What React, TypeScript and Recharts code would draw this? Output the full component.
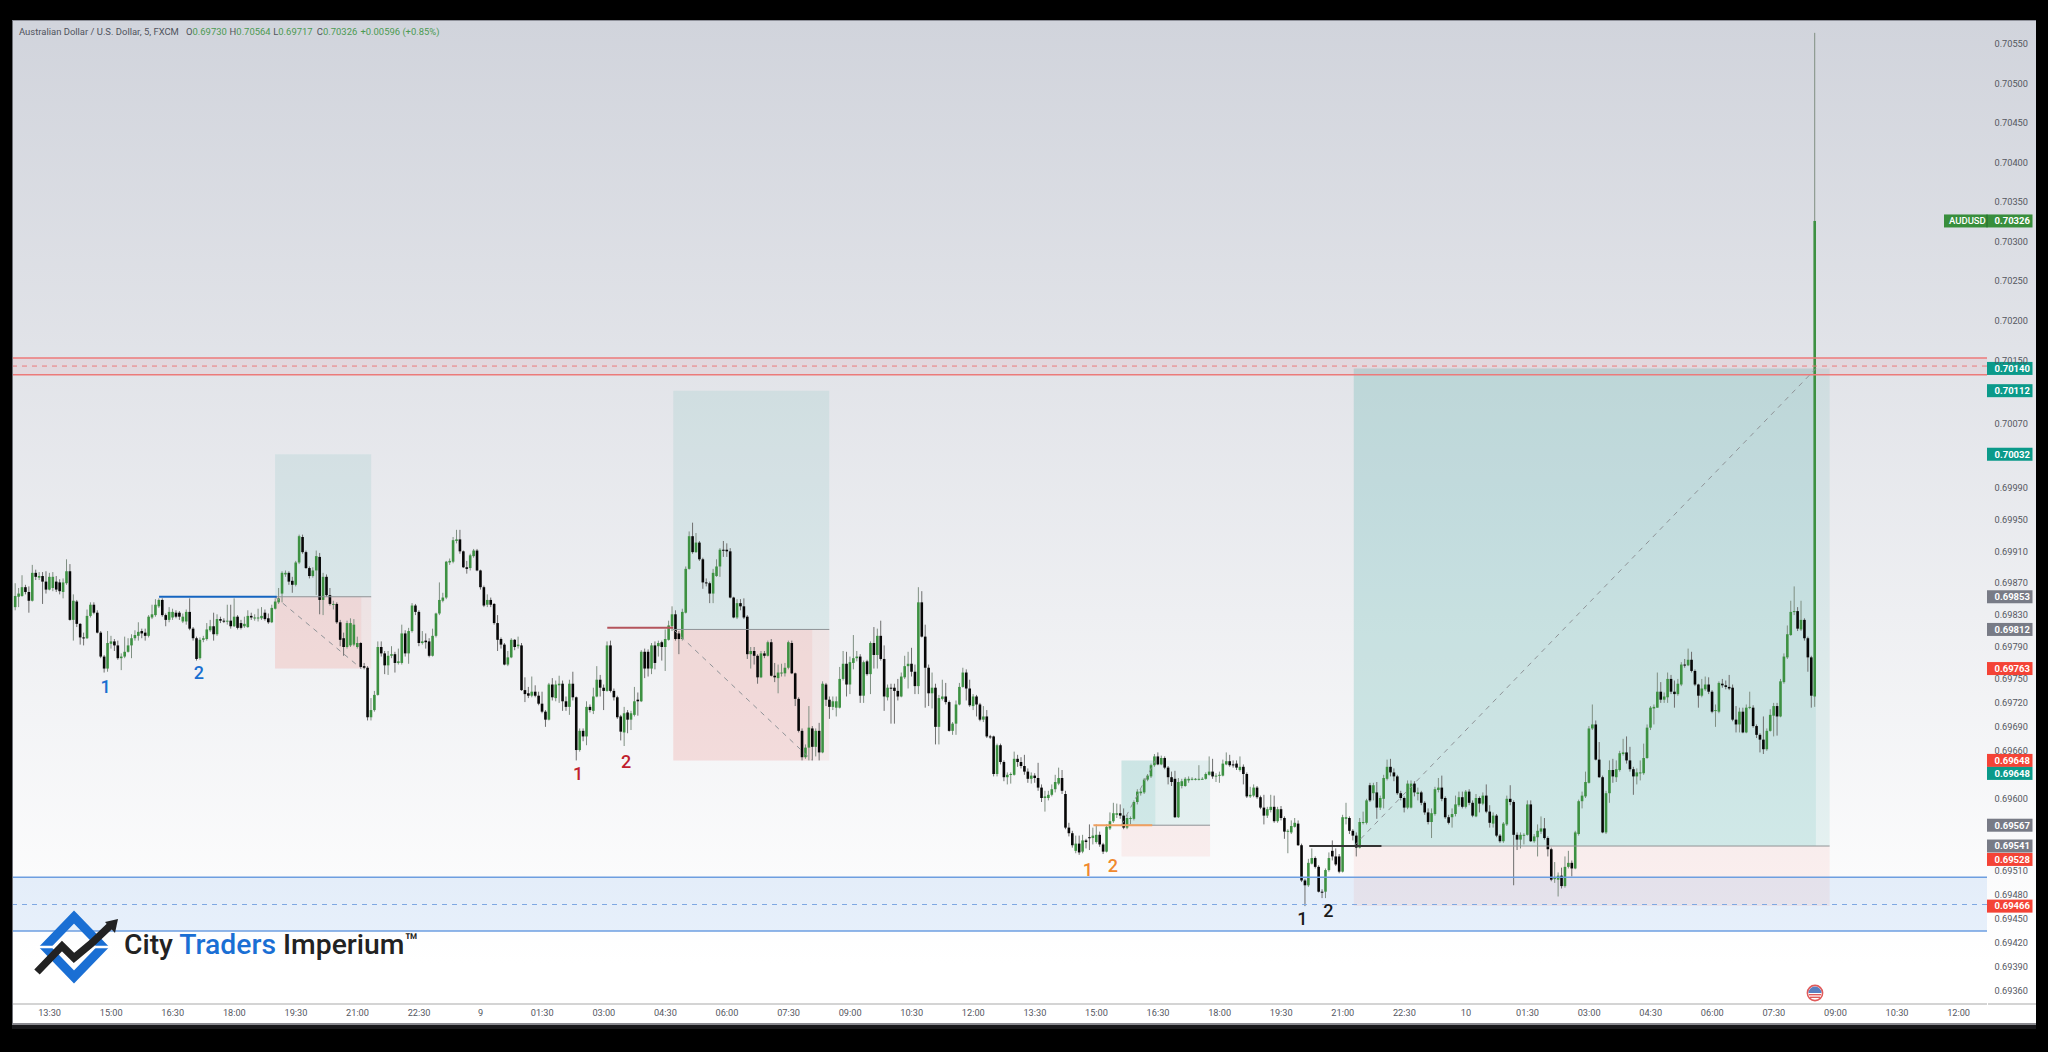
import { ComposedChart, Bar, XAxis, YAxis, ReferenceArea, ReferenceLine, ReferenceDot } from 'recharts';

// AUDUSD 5 minute bars, prices in points (0.00001)
const opens = [
  69842,69855,69856,69867,69861,69850,69885,69879,69881,69874,
  69864,69866,69874,69873,69861,69872,69887,69826,69849,69821,
  69804,69803,69831,69845,69835,69810,69780,69765,69796,69799,
  69794,69778,69780,69786,69794,69803,69806,69812,69810,69806,
  69829,69832,69843,69851,69832,69826,69829,69835,69835,69824,
  69824,69836,69815,69803,69778,69801,69802,69813,69818,69808,
  69827,69825,69824,69825,69818,69830,69822,69818,69817,69831,
  69829,69828,69828,69835,69828,69823,69840,69848,69859,69883,
  69885,69875,69870,69898,69930,69911,69891,69881,69888,69905,
  69851,69880,69857,69846,69846,69823,69803,69792,69794,69795,
  69792,69797,69768,69766,69704,69713,69732,69792,69784,69769,
  69781,69783,69772,69772,69809,69784,69812,69844,69836,69797,
  69800,69799,69781,69806,69834,69850,69854,69898,69899,69925,
  69927,69912,69892,69891,69906,69913,69888,69867,69845,69851,
  69846,69822,69802,69795,69770,69779,69801,69793,69794,69738,
  69734,69731,69736,69731,69721,69711,69701,69745,69728,69744,
  69746,69724,69717,69746,69729,69663,69687,69680,69717,69712,
  69730,69751,69741,69737,69794,69737,69729,69705,69685,69710,
  69701,69707,69726,69724,69786,69786,69765,69794,69793,69798,
  69792,69801,69818,69833,69809,69802,69835,69890,69931,69911,
  69923,69902,69873,69872,69859,69881,69893,69914,69914,69912,
  69854,69829,69847,69843,69830,69783,69787,69781,69754,69784,
  69781,69798,69756,69753,69759,69759,69766,69797,69759,69727,
  69687,69654,69666,69690,69667,69687,69660,69745,69726,69717,
  69716,69716,69752,69771,69745,69772,69778,69780,69731,69774,
  69758,69797,69782,69806,69777,69729,69741,69741,69737,69730,
  69754,69768,69771,69761,69743,69848,69805,69766,69734,69741,
  69692,69727,69730,69723,69687,69696,69720,69742,69760,69740,
  69718,69730,69720,69701,69705,69680,69680,69633,69669,69648,
  69629,69632,69632,69652,69648,69643,69636,69627,69631,69628,
  69616,69603,69603,69607,69614,69621,69628,69608,69566,69559,
  69537,69546,69536,69550,69554,69553,69548,69557,69545,69536,
  69565,69574,69582,69584,69581,69566,69577,69577,69598,69609,
  69610,69626,69630,69644,69655,69645,69653,69641,69629,69627,
  69579,69618,69618,69625,69626,69626,69626,69627,69627,69632,
  69636,69630,69631,69631,69645,69649,69645,69646,69638,69642,
  69633,69605,69606,69616,69604,69591,69581,69588,69592,69574,
  69589,69578,69561,69560,69567,69571,69544,69500,69494,69521,
  69528,69517,69486,69486,69513,69537,69530,69530,69511,69577,
  69578,69562,69556,69541,69572,69572,69619,69609,69610,69591,
  69602,69627,69642,69635,69630,69609,69603,69591,69591,69621,
  69608,69610,69597,69585,69573,69583,69613,69616,69603,69579,
  69579,69583,69594,69604,69592,69611,69597,69580,69603,69596,
  69606,69586,69571,69581,69556,69549,69570,69602,69598,69557,
  69551,69556,69557,69595,69549,69554,69561,69565,69553,69539,
  69502,69501,69506,69493,69517,69522,69515,69558,69599,69605,
  69622,69690,69695,69651,69629,69560,69609,69638,69629,69638,
  69658,69660,69650,69639,69630,69634,69634,69653,69691,69715,
  69716,69736,69726,69729,69752,69736,69733,69745,69770,69769,
  69776,69762,69745,69731,69739,69745,69736,69712,69711,69746,
  69744,69742,69741,69701,69695,69711,69685,69716,69716,69693,
  69682,69676,69664,69687,69706,69718,69705,69748,69779,69807,
  69837,69837,69814,69826,69803,69779,69730,
];
const closes = [
  69856,69859,69867,69861,69850,69885,69880,69881,69874,69864,
  69880,69880,69864,69862,69873,69887,69826,69850,69821,69804,
  69803,69831,69845,69835,69810,69780,69765,69797,69799,69794,
  69778,69780,69786,69794,69803,69807,69811,69809,69806,69830,
  69833,69845,69851,69832,69826,69836,69836,69830,69830,69830,
  69836,69815,69803,69777,69801,69803,69814,69818,69808,69827,
  69825,69824,69825,69818,69830,69816,69816,69821,69831,69829,
  69829,69829,69831,69827,69823,69841,69849,69853,69885,69885,
  69874,69870,69898,69931,69911,69891,69881,69888,69906,69851,
  69880,69857,69846,69846,69823,69801,69792,69822,69822,69820,
  69797,69767,69766,69704,69713,69732,69792,69784,69769,69781,
  69783,69772,69774,69809,69784,69812,69844,69836,69797,69799,
  69798,69781,69806,69834,69851,69854,69899,69900,69926,69927,
  69912,69892,69890,69907,69913,69888,69867,69844,69851,69845,
  69822,69801,69795,69770,69779,69801,69792,69795,69738,69733,
  69731,69736,69731,69721,69711,69701,69745,69729,69745,69746,
  69724,69717,69746,69729,69663,69687,69680,69717,69713,69730,
  69751,69741,69737,69794,69737,69729,69704,69686,69709,69701,
  69709,69724,69724,69786,69765,69765,69794,69772,69797,69792,
  69802,69819,69833,69802,69802,69836,69890,69931,69911,69923,
  69902,69873,69872,69859,69885,69893,69914,69913,69912,69854,
  69829,69847,69843,69829,69783,69787,69781,69754,69784,69781,
  69798,69756,69754,69760,69760,69766,69798,69759,69727,69687,
  69654,69666,69691,69667,69687,69660,69746,69726,69717,69724,
  69724,69752,69771,69745,69773,69778,69780,69731,69773,69758,
  69797,69782,69806,69777,69730,69741,69740,69737,69730,69755,
  69768,69771,69761,69743,69848,69805,69766,69734,69741,69692,
  69728,69730,69723,69687,69696,69720,69742,69760,69740,69719,
  69730,69720,69701,69705,69680,69679,69633,69669,69648,69629,
  69632,69633,69652,69648,69643,69636,69627,69631,69628,69616,
  69603,69605,69607,69614,69623,69628,69612,69566,69559,69544,
  69546,69535,69550,69548,69553,69556,69557,69545,69536,69567,
  69574,69584,69584,69581,69566,69578,69578,69598,69611,69611,
  69626,69631,69644,69655,69645,69653,69641,69629,69623,69579,
  69623,69624,69627,69627,69627,69627,69627,69627,69633,69636,
  69630,69631,69632,69646,69649,69644,69644,69641,69642,69633,
  69605,69607,69616,69604,69591,69581,69589,69592,69574,69589,
  69578,69561,69562,69568,69572,69544,69500,69494,69522,69528,
  69517,69486,69485,69513,69528,69530,69520,69511,69579,69579,
  69562,69556,69541,69573,69573,69600,69600,69619,69591,69603,
  69628,69642,69635,69630,69609,69603,69591,69621,69621,69610,
  69610,69597,69585,69573,69584,69614,69616,69602,69579,69572,
  69583,69595,69604,69592,69611,69597,69581,69603,69596,69606,
  69586,69572,69581,69556,69549,69571,69602,69598,69557,69551,
  69557,69557,69595,69549,69555,69562,69565,69553,69539,69501,
  69503,69506,69493,69517,69522,69515,69560,69599,69606,69623,
  69690,69695,69651,69629,69560,69609,69638,69630,69639,69659,
  69660,69650,69639,69630,69635,69635,69653,69691,69716,69717,
  69736,69726,69730,69752,69736,69733,69746,69770,69769,69776,
  69762,69745,69731,69740,69745,69736,69711,69713,69747,69744,
  69742,69740,69701,69695,69711,69685,69716,69717,69693,69682,
  69676,69664,69687,69707,69718,69705,69749,69780,69808,69836,
  69837,69815,69826,69803,69779,69731,70326,
];
const highs = [
  69872,69866,69882,69870,69868,69895,69889,69886,69886,69887,
  69885,69886,69881,69877,69878,69902,69896,69858,69851,69822,
  69810,69839,69848,69848,69838,69812,69782,69812,69806,69802,
  69800,69784,69805,69803,69808,69813,69823,69815,69815,69832,
  69845,69852,69853,69853,69834,69842,69840,69838,69837,69834,
  69839,69853,69817,69805,69804,69806,69822,69826,69835,69833,
  69830,69828,69845,69845,69853,69832,69826,69830,69838,69835,
  69833,69840,69842,69839,69834,69845,69853,69866,69887,69888,
  69887,69880,69900,69933,69933,69913,69893,69892,69913,69910,
  69885,69883,69866,69850,69848,69826,69810,69825,69828,69827,
  69805,69798,69772,69768,69728,69737,69799,69799,69787,69787,
  69793,69786,69790,69820,69813,69816,69847,69846,69838,69812,
  69809,69803,69815,69835,69873,69860,69900,69903,69930,69939,
  69939,69913,69900,69909,69915,69915,69889,69869,69858,69854,
  69847,69832,69804,69797,69787,69803,69802,69805,69797,69754,
  69742,69755,69744,69736,69736,69713,69747,69753,69750,69756,
  69750,69730,69751,69761,69730,69690,69690,69724,69720,69741,
  69768,69757,69745,69799,69800,69740,69731,69707,69717,69713,
  69712,69742,69735,69788,69790,69789,69797,69799,69800,69800,
  69814,69825,69843,69838,69812,69840,69893,69937,69948,69935,
  69925,69904,69878,69874,69890,69902,69916,69925,69922,69916,
  69855,69852,69852,69853,69832,69792,69792,69783,69787,69787,
  69800,69802,69772,69770,69771,69772,69800,69800,69760,69729,
  69690,69670,69718,69693,69690,69697,69749,69747,69730,69730,
  69730,69767,69787,69786,69780,69807,69787,69783,69775,69776,
  69799,69817,69815,69825,69794,69745,69746,69746,69752,69760,
  69781,69786,69791,69770,69867,69862,69820,69770,69760,69746,
  69732,69751,69747,69725,69698,69725,69747,69766,69764,69751,
  69733,69732,69722,69718,69713,69682,69681,69671,69671,69650,
  69635,69635,69661,69657,69654,69657,69640,69635,69634,69647,
  69620,69612,69612,69620,69632,69641,69638,69612,69572,69562,
  69556,69556,69557,69552,69570,69566,69570,69561,69547,69570,
  69585,69597,69596,69595,69590,69582,69580,69600,69614,69614,
  69628,69633,69646,69658,69660,69656,69655,69643,69636,69637,
  69628,69627,69629,69630,69629,69628,69644,69629,69635,69655,
  69652,69634,69636,69651,69660,69657,69650,69650,69655,69645,
  69635,69617,69620,69618,69606,69607,69592,69607,69606,69592,
  69593,69580,69564,69575,69578,69575,69546,69502,69527,69540,
  69530,69519,69489,69515,69535,69550,69540,69533,69582,69597,
  69580,69564,69560,69578,69586,69602,69622,69622,69623,69606,
  69632,69651,69652,69640,69632,69612,69605,69625,69625,69624,
  69616,69612,69599,69590,69590,69617,69628,69631,69605,69582,
  69590,69606,69611,69611,69613,69614,69600,69608,69605,69610,
  69620,69594,69585,69583,69558,69573,69606,69619,69600,69560,
  69560,69559,69600,69600,69558,69570,69580,69578,69555,69541,
  69523,69510,69516,69530,69537,69525,69562,69601,69611,69636,
  69693,69720,69700,69673,69631,69612,69650,69652,69650,69662,
  69677,69680,69667,69642,69640,69650,69671,69695,69718,69720,
  69760,69748,69735,69760,69757,69750,69752,69773,69777,69790,
  69786,69764,69746,69752,69755,69754,69738,69720,69749,69752,
  69750,69757,69745,69718,69716,69716,69720,69736,69719,69695,
  69684,69705,69690,69714,69722,69722,69752,69784,69819,69850,
  69868,69842,69850,69828,69805,69781,70564,
];
const lows = [
  69838,69842,69855,69858,69835,69849,69876,69876,69846,69859,
  69863,69862,69861,69858,69853,69870,69825,69800,69817,69795,
  69794,69802,69829,69833,69809,69778,69760,69761,69790,69787,
  69776,69763,69778,69785,69778,69800,69800,69803,69800,69804,
  69827,69830,69841,69830,69818,69823,69826,69828,69826,69822,
  69820,69813,69800,69775,69776,69798,69800,69811,69800,69806,
  69822,69822,69820,69815,69817,69814,69814,69816,69816,69826,
  69825,69824,69826,69825,69821,69822,69839,69846,69848,69880,
  69870,69860,69868,69896,69909,69890,69878,69879,69857,69833,
  69832,69855,69844,69839,69821,69793,69781,69790,69792,69793,
  69790,69765,69764,69700,69700,69711,69731,69780,69758,69757,
  69778,69760,69770,69770,69780,69771,69810,69832,69793,69795,
  69790,69779,69780,69804,69832,69848,69852,69895,69897,69922,
  69909,69891,69884,69888,69904,69887,69864,69842,69842,69842,
  69820,69787,69790,69769,69768,69778,69788,69790,69737,69723,
  69728,69729,69729,69719,69709,69692,69700,69725,69724,69722,
  69712,69712,69707,69725,69650,69661,69674,69669,69710,69708,
  69729,69730,69713,69736,69735,69725,69702,69675,69668,69684,
  69688,69705,69706,69723,69753,69755,69758,69764,69780,69775,
  69762,69800,69812,69800,69783,69800,69834,69889,69909,69910,
  69900,69865,69868,69847,69847,69880,69880,69905,69905,69853,
  69828,69827,69838,69827,69777,69765,69770,69746,69753,69778,
  69780,69755,69748,69734,69755,69755,69764,69758,69718,69685,
  69650,69652,69650,69650,69655,69650,69659,69718,69702,69713,
  69705,69715,69750,69730,69733,69764,69774,69722,69722,69756,
  69733,69765,69765,69775,69712,69725,69696,69696,69725,69729,
  69752,69740,69755,69733,69733,69804,69716,69718,69715,69670,
  69670,69725,69720,69686,69682,69682,69719,69741,69725,69717,
  69713,69705,69699,69698,69678,69677,69630,69630,69645,69624,
  69620,69621,69631,69642,69640,69632,69622,69621,69622,69612,
  69598,69586,69600,69605,69610,69619,69608,69564,69555,69541,
  69534,69532,69534,69540,69538,69545,69546,69542,69533,69535,
  69563,69572,69578,69577,69564,69564,69570,69575,69595,69606,
  69608,69624,69628,69642,69644,69644,69639,69620,69618,69578,
  69578,69615,69617,69622,69625,69625,69625,69626,69626,69631,
  69627,69623,69622,69630,69644,69642,69641,69638,69636,69620,
  69603,69603,69604,69602,69589,69570,69578,69585,69572,69572,
  69575,69552,69534,69558,69566,69543,69498,69468,69492,69520,
  69515,69485,69478,69478,69511,69525,69518,69509,69510,69570,
  69558,69550,69530,69540,69570,69570,69598,69600,69577,69588,
  69590,69625,69630,69624,69607,69600,69585,69589,69590,69605,
  69600,69594,69582,69570,69553,69581,69610,69599,69577,69570,
  69566,69580,69592,69590,69590,69594,69579,69579,69585,69594,
  69584,69566,69566,69554,69547,69547,69568,69594,69494,69538,
  69540,69545,69556,69548,69547,69530,69558,69551,69530,69499,
  69497,69480,69490,69491,69515,69505,69514,69556,69590,69603,
  69621,69688,69650,69628,69559,69558,69597,69622,69623,69636,
  69656,69646,69636,69607,69620,69625,69632,69652,69688,69695,
  69716,69722,69722,69722,69733,69716,69731,69743,69766,69768,
  69760,69743,69716,69729,69737,69733,69709,69692,69709,69741,
  69739,69738,69699,69685,69685,69684,69684,69714,69691,69678,
  69660,69658,69662,69686,69680,69681,69704,69746,69777,69806,
  69832,69812,69812,69800,69761,69716,69717,
];

const yTicks = [
  70550,70500,70450,70400,70350,70300,70250,70200,70150,70070,69990,69950,69910,69870,69830,
  69790,69750,69720,69690,69660,69600,69510,69480,69450,69420,69390,69360,
];
const xLabels = [
  '13:30','15:00','16:30','18:00','19:30','21:00','22:30','9','01:30','03:00','04:30','06:00','07:30','09:00','10:30','12:00',
  '13:30','15:00','16:30','18:00','19:30','21:00','22:30','10','01:30','03:00','04:30','06:00','07:30','09:00','10:30','12:00',
];
const xTicks = xLabels.map((_, i) => 10 + i * 18);

// bars were read against a straight price ruler, the axis is log: about 2 points of difference below 0.70
const onLog = (p: number) => (p < 70000 ? p - 2 : p);
const data = closes.map((close, i) => ({
  idx: i,
  open: onLog(opens[i]),
  close: onLog(close),
  high: onLog(highs[i]),
  low: onLog(lows[i]),
}));

const GREEN = 'rgba(0,150,136,0.16)';
const GREEN_ON = 'rgba(0,150,136,0.17)';
const RED = 'rgba(244,67,54,0.14)';
const RED_ON = 'rgba(244,67,54,0.15)';

const positions = [
  { from: 75.9, to: 104, target: 70032, entry: 69853, stop: 69763, filled: 101.1, win: false },
  { from: 192.3, to: 237.9, target: 70112, entry: 69812, stop: 69648, filled: 232.9, win: false },
  { from: 323.3, to: 349.2, target: 69648, entry: 69567, stop: 69528, filled: 333.2, win: true },
  { from: 391.2, to: 530.3, target: 70140, entry: 69541, stop: 69466, filled: 526.3, win: true },
];
const dashes = [
  [75.9, 69853, 101.1, 69763],
  [192.3, 69812, 232.9, 69648],
  [323.3, 69567, 333.2, 69648],
  [391.2, 69541, 526.3, 70140],
];
const levels = [
  { from: 42, to: 76.4, price: 69853, color: '#1565c0' },
  { from: 173, to: 192.3, price: 69814, color: '#b4545c' },
  { from: 315.1, to: 332.3, price: 69567, color: '#f0a060' },
  { from: 378.2, to: 399.3, price: 69541, color: '#333333' },
];
const marks = [
  { idx: 26.4, price: 69740, text: '1', color: '#1a6fd0' },
  { idx: 53.6, price: 69758, text: '2', color: '#1a6fd0' },
  { idx: 164.5, price: 69631, text: '1', color: '#c01f2e' },
  { idx: 178.5, price: 69647, text: '2', color: '#c01f2e' },
  { idx: 313.5, price: 69511, text: '1', color: '#f0892e' },
  { idx: 320.8, price: 69516, text: '2', color: '#f0892e' },
  { idx: 376.2, price: 69450, text: '1', color: '#1a1a1a' },
  { idx: 383.8, price: 69461, text: '2', color: '#1a1a1a' },
];
const badges = [
  { price: 70140, color: '#0b9a8a', shift: 0 },
  { price: 70112, color: '#0b9a8a', shift: 0 },
  { price: 70032, color: '#0b9a8a', shift: 0 },
  { price: 69853, color: '#787b86', shift: 0 },
  { price: 69812, color: '#787b86', shift: 0 },
  { price: 69763, color: '#f44336', shift: 0 },
  { price: 69648, color: '#f44336', shift: 0 },
  { price: 69648, color: '#0b9a8a', shift: 13 },
  { price: 69567, color: '#787b86', shift: 0 },
  { price: 69541, color: '#787b86', shift: 0 },
  { price: 69528, color: '#f44336', shift: 3 },
  { price: 69466, color: '#f44336', shift: 0 },
];

const fmt = (v: number) => (v / 100000).toFixed(5);

const Candle = (props: any) => {
  const { x, y, width, height, payload } = props;
  const { open, close, high, low } = payload;
  const at = (v: number) => y + (height * Math.log(high / v)) / Math.log(high / low);
  const cx = x + width / 2;
  const up = close >= open;
  const top = at(Math.max(open, close));
  const bodyH = Math.max(1, at(Math.min(open, close)) - top);
  return (
    <g>
      <line x1={cx} x2={cx} y1={y} y2={y + height} stroke={up ? '#7f8f82' : '#6e6e6e'} strokeWidth={1} />
      <rect x={cx - 1.3} y={top} width={2.6} height={bodyH} fill={up ? '#3d9142' : '#070707'} />
    </g>
  );
};

const badgeLabel = (b: { price: number; color: string; shift: number }) => (p: any) => {
  const vb = p.viewBox;
  const left = vb.x + vb.width;
  const mid = vb.y + b.shift;
  return (
    <g>
      <rect x={left} y={mid - 6.5} width={45.5} height={13} fill={b.color} />
      <text x={left + 7.5} y={mid + 3.3} fill="#ffffff" fontSize={9.5} fontWeight={700} fontFamily="Roboto">{fmt(b.price)}</text>
    </g>
  );
};

const lastLabel = (p: any) => {
  const vb = p.viewBox;
  const left = vb.x + vb.width;
  return (
    <g>
      <rect x={left - 43} y={vb.y - 6.5} width={88.5} height={13} fill="#388e3c" />
      <line x1={left} x2={left} y1={vb.y - 6.5} y2={vb.y + 6.5} stroke="#256b2a" />
      <text x={left - 38} y={vb.y + 3.3} fill="#ffffff" fontSize={9.5} fontWeight={500} fontFamily="Roboto">AUDUSD</text>
      <text x={left + 7.5} y={vb.y + 3.3} fill="#ffffff" fontSize={9.5} fontWeight={700} fontFamily="Roboto">{fmt(70326)}</text>
    </g>
  );
};

const Logo = () => (
  <svg width={130} height={90} viewBox="20 900 130 90" style={{ position: 'absolute', left: 20, top: 900 }}>
    <polygon points="74,917 103,947 74,977 45,947" fill="none" stroke="#1a6fd4" strokeWidth={9} />
    <line x1={36} x2={112} y1={947} y2={947} stroke="#ffffff" strokeWidth={2.5} />
    <polyline points="37,972 62,946 74,958 92,943 112,924" fill="none" stroke="#222222" strokeWidth={7.5} />
    <polygon points="105,922 118,919 115,933" fill="#222222" />
  </svg>
);

const Flag = () => (
  <svg width={20} height={20} style={{ position: 'absolute', left: 1805, top: 983 }}>
    <circle cx={10} cy={10} r={7.6} fill="#ffffff" stroke="#e05a5a" strokeWidth={1.6} />
    <path d="M3.5 10 a6.5 6.5 0 0 1 13 0 z" fill="#5a7fc0" />
    <rect x={4} y={11} width={12} height={1.4} fill="#e05a5a" />
    <rect x={5} y={13.6} width={10} height={1.4} fill="#e05a5a" />
  </svg>
);

const legendValues = [
  ['O', '0.69730'],
  ['H', '0.70564'],
  ['L', '0.69717'],
  ['C', '0.70326'],
];

export default function App() {
  return (
    <div style={{ position: 'absolute', left: 0, top: 0, width: 2048, height: 1052, background: '#000000', overflow: 'hidden' }}>
      <div style={{ position: 'absolute', left: 12, top: 20, width: 2024, height: 1005, background: 'linear-gradient(#d1d4dc 0%, #ffffff 94%)', borderTop: '1px solid #8f919a', borderLeft: '1px solid #6f7178', borderBottom: '2px solid #8a8a90', boxSizing: 'border-box' }} />
      <div style={{ position: 'absolute', left: 12, top: 1025, width: 2024, height: 4, background: '#18181b' }} />
      <div style={{ position: 'absolute', left: 1988, top: 1003, width: 48, height: 2, background: '#d4d4d4' }} />
      <div style={{ position: 'absolute', left: 13, top: 21 }}>
        <ComposedChart width={2023} height={1003} data={data} margin={{ top: 0, right: 0, bottom: 0, left: 0 }} barCategoryGap={0} style={{ background: 'transparent' }}>
          <XAxis
            dataKey="idx"
            type="number"
            domain={[-0.7, 576.3]}
            allowDataOverflow
            ticks={xTicks}
            interval={0}
            height={20}
            tickSize={0}
            tickMargin={5}
            stroke="#d4d4d4"
            strokeWidth={2}
            tick={{ fill: '#55575f', fontSize: 9.2, fontFamily: 'Roboto' }}
            tickFormatter={(v: number) => xLabels[(v - 10) / 18]}
          />
          <YAxis
            orientation="right"
            type="number"
            scale="log"
            domain={[69344, 70579]}
            allowDataOverflow
            ticks={yTicks}
            interval={0}
            width={49}
            tickSize={0}
            tickMargin={7.5}
            axisLine={false}
            tick={{ fill: '#55575f', fontSize: 9.2, fontFamily: 'Roboto' }}
            tickFormatter={fmt}
          />

          <ReferenceArea y1={70132} y2={70153} fill="rgba(242,54,69,0.12)" stroke="none" />
          <ReferenceLine y={70153} stroke="#ec7a7a" strokeWidth={1.5} />
          <ReferenceLine y={70143} stroke="#ec7a7a" strokeWidth={1} strokeDasharray="5 5" />
          <ReferenceLine y={70132} stroke="#ec7a7a" strokeWidth={1.5} />
          <ReferenceArea y1={69435} y2={69502} fill="rgba(33,120,230,0.2)" stroke="none" />
          <ReferenceLine y={69502} stroke="#6d9ee0" strokeWidth={1.5} />
          <ReferenceLine y={69468} stroke="#7fa8e2" strokeWidth={1} strokeDasharray="5 5" />
          <ReferenceLine y={69435} stroke="#6d9ee0" strokeWidth={1.5} />

          {positions.map((p) => (
            <ReferenceArea key={`g${p.from}`} x1={p.from} x2={p.to} y1={p.entry} y2={p.target} fill={GREEN} stroke="none" />
          ))}
          {positions.map((p) => (
            <ReferenceArea key={`r${p.from}`} x1={p.from} x2={p.to} y1={p.stop} y2={p.entry} fill={RED} stroke="none" />
          ))}
          {positions.map((p) => (
            <ReferenceArea
              key={`o${p.from}`}
              x1={p.from}
              x2={p.filled}
              y1={p.win ? p.entry : p.stop}
              y2={p.win ? p.target : p.entry}
              fill={p.win ? GREEN_ON : RED_ON}
              stroke="none"
            />
          ))}
          {positions.map((p) => (
            <ReferenceLine key={`e${p.from}`} segment={[{ x: p.from, y: p.entry }, { x: p.to, y: p.entry }]} stroke="#8f9396" strokeWidth={1} />
          ))}

          <Bar dataKey={(d: any) => [d.low, d.high]} shape={Candle} isAnimationActive={false} />

          {dashes.map((d) => (
            <ReferenceLine key={`d${d[0]}`} segment={[{ x: d[0], y: d[1] }, { x: d[2], y: d[3] }]} stroke="#8f9397" strokeWidth={1} strokeDasharray="5 5" />
          ))}
          {levels.map((l) => (
            <ReferenceLine key={`l${l.from}`} segment={[{ x: l.from, y: l.price }, { x: l.to, y: l.price }]} stroke={l.color} strokeWidth={2} />
          ))}
          {marks.map((m) => (
            <ReferenceDot
              key={`m${m.idx}`}
              x={m.idx}
              y={m.price}
              r={0}
              stroke="none"
              label={{ value: m.text, position: 'center', fill: m.color, fontSize: 18, fontWeight: 500, fontFamily: 'Roboto' }}
            />
          ))}
          {badges.map((b) => (
            <ReferenceLine key={`b${b.price}${b.color}`} y={b.price} stroke="none" label={badgeLabel(b)} />
          ))}
          <ReferenceLine y={70326} stroke="none" label={lastLabel} />
        </ComposedChart>
      </div>

      <div style={{ position: 'absolute', left: 19, top: 26, fontFamily: 'Roboto', fontSize: 9.45, lineHeight: '12px', color: '#50535c', whiteSpace: 'pre' }}>
        <span style={{ display: 'inline-block', width: 167 }}>Australian Dollar / U.S. Dollar, 5, FXCM</span>
        {legendValues.map(([k, v]) => (
          <span key={k} style={{ display: 'inline-block', width: 43.6 }}>
            {k}
            <span style={{ color: '#4c9a52' }}>{v}</span>
          </span>
        ))}
        <span style={{ color: '#4c9a52' }}>+0.00596 (+0.85%)</span>
      </div>

      <Logo />
      <div style={{ position: 'absolute', left: 124, top: 928, fontFamily: 'Roboto', fontSize: 28.3, fontWeight: 500, lineHeight: '34px', color: '#222222', whiteSpace: 'pre' }}>
        City <span style={{ color: '#1a6fd4' }}>Traders</span> Imperium<span style={{ fontSize: 22, position: 'relative', top: -5 }}>™</span>
      </div>
      <Flag />
    </div>
  );
}
